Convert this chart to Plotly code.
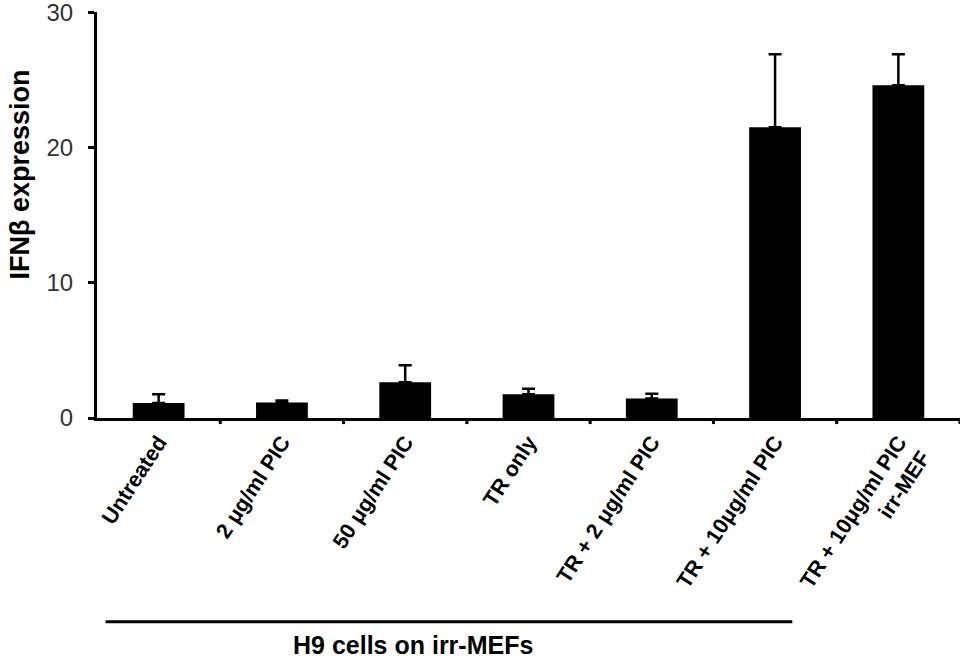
import plotly.graph_objects as go

categories = [
    "Untreated",
    "2 μg/ml PIC",
    "50 μg/ml PIC",
    "TR only",
    "TR + 2 μg/ml PIC",
    "TR + 10μg/ml PIC",
    "TR + 10μg/ml PIC<br>irr-MEF",
]
values = [1.1, 1.15, 2.65, 1.75, 1.45, 21.5, 24.6]
errors = [0.65, 0.15, 1.25, 0.42, 0.35, 5.4, 2.3]
y_ticks = [0, 10, 20, 30]

FONT = "Liberation Sans, Arial, sans-serif"

fig = go.Figure()
fig.add_trace(go.Bar(
    x=list(range(len(categories))),
    y=values,
    width=0.42,
    marker=dict(color="black", line=dict(width=0)),
    error_y=dict(type="data", array=errors, arrayminus=[0] * len(errors),
                 symmetric=False, color="black", thickness=2.5, width=6.5),
))

fig.update_layout(
    width=964, height=660,
    margin=dict(l=97, r=4, t=12, b=242),
    plot_bgcolor="white", paper_bgcolor="white",
    showlegend=False,
    font=dict(family=FONT, color="black"),
    xaxis=dict(
        range=[-0.5, 6.5],
        automargin=False,
        tickmode="array",
        tickvals=list(range(len(categories))),
        ticktext=categories,
        tickangle=-57,
        tickfont=dict(size=21.5, weight="bold", color="black"),
        showline=True, linecolor="black", linewidth=3,
        ticks="", showgrid=False, zeroline=False,
    ),
    yaxis=dict(
        range=[0, 30.02],
        automargin=False,
        tickvals=y_ticks,
        tickfont=dict(size=24, color="#333333"),
        ticklabelstandoff=10,
        ticklabeloverflow="allow",
        showline=True, linecolor="black", linewidth=3,
        ticks="outside", ticklen=6, tickwidth=3, tickcolor="black",
        showgrid=False, zeroline=False,
    ),
)

# category boundary ticks on x-axis
for b in [0.5, 1.5, 2.5, 3.5, 4.5, 5.5, 6.5]:
    fig.add_shape(type="line", xref="x", yref="paper", x0=b, x1=b, y0=0, y1=-0.015,
                  line=dict(color="black", width=3))

fig.add_annotation(
    text="IFNβ expression", xref="paper", yref="paper",
    x=-0.089, y=0.6, xanchor="center", yanchor="middle",
    textangle=-90, showarrow=False,
    font=dict(size=27, weight="bold", color="black", family=FONT),
)

fig.add_shape(type="line", xref="x", yref="paper", x0=-0.43, x1=5.14,
              y0=-0.502, y1=-0.502, line=dict(color="black", width=3))
fig.add_annotation(
    text="H9 cells on irr-MEFs", xref="x", yref="paper",
    x=2.06, y=-0.559, xanchor="center", yanchor="middle", showarrow=False,
    font=dict(size=25, weight="bold", color="black", family=FONT),
)

fig.write_html("out.html", config={"displayModeBar": False},
               post_script="document.body.style.margin='0';")
